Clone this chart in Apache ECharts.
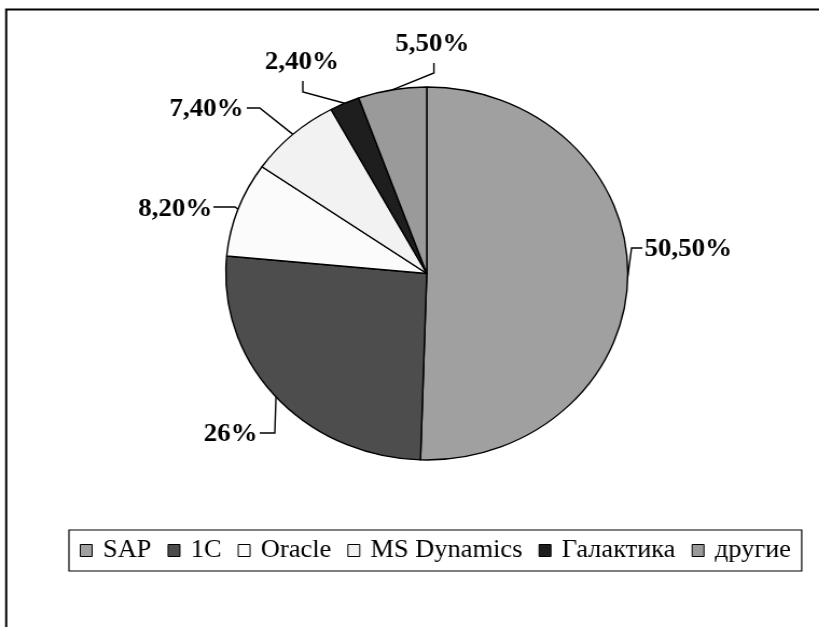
<!DOCTYPE html>
<html><head><meta charset="utf-8">
<script src="https://cdn.jsdelivr.net/npm/echarts@6/dist/echarts.min.js"></script>
<style>
html,body{margin:0;padding:0;background:#fff;overflow:hidden;width:819px;height:627px}
#c{width:760px;height:627px;transform:scaleX(1.0777);transform-origin:0 0}
</style></head><body><div id="c"></div>
<script>
const categories = ['SAP', '1C', 'Oracle', 'MS Dynamics', 'Галактика', 'другие'];
const shares = [50.5, 26, 8.2, 7.4, 2.4, 5.5];
const valueLabels = ['50,50%', '26%', '8,20%', '7,40%', '2,40%', '5,50%'];
const colors = ['#a0a0a0', '#4d4d4d', '#fbfbfb', '#f2f2f2', '#1e1e1e', '#9a9a9a'];

// label placement (layout only, unstretched coordinates)
const labelSpots = [
  { x: 598, y: 249.5, align: 'left',   bend: [[586, 248], [596, 248]] },
  { x: 239, y: 435,   align: 'right',  bend: [[255, 433], [241, 433]] },
  { x: 197, y: 210,   align: 'right',  bend: [[218, 207], [198, 207]] },
  { x: 226, y: 110,   align: 'right',  bend: [[241, 108], [229, 108]] },
  { x: 280, y: 63,    align: 'center', bend: [[281, 92], [281, 81]] },
  { x: 401, y: 45,    align: 'center', bend: [[402.6, 73], [402.6, 63]] }
];

const FONT = '"Liberation Serif", "Times New Roman", Times, serif';
const chart = echarts.init(document.getElementById('c'), null, { renderer: 'canvas' });
const data = categories.map((n, i) => ({ name: n, value: shares[i], itemStyle: { color: colors[i] } }));

chart.setOption({
  backgroundColor: '#fff',
  animation: false,
  graphic: [{
    type: 'polyline',
    shape: { points: [[5.75, 700], [5.75, 9.5], [800, 9.5]] },
    style: { stroke: '#000', lineWidth: 2, fill: null }
  }],
  legend: {
    left: 64, top: 530,
    padding: [8, 10, 8, 10],
    itemGap: 15,
    itemWidth: 11, itemHeight: 12,
    icon: 'rect',
    borderColor: '#000', borderWidth: 1.2,
    itemStyle: { borderColor: '#000', borderWidth: 1 },
    textStyle: { fontFamily: FONT, fontSize: 24.5, color: '#000', padding: [0, 0, 0, 5] },
    data: categories
  },
  series: [{
    type: 'pie',
    center: [396, 273.5],
    radius: 186.5,
    startAngle: 90,
    clockwise: true,
    avoidLabelOverlap: false,
    itemStyle: { borderColor: '#000', borderWidth: 1.4 },
    label: {
      show: true, position: 'outside',
      formatter: p => valueLabels[p.dataIndex],
      fontFamily: FONT, fontWeight: 'bold', fontSize: 25, color: '#000'
    },
    labelLine: { show: true, length: 10, length2: 10, lineStyle: { color: '#000', width: 1.4 } },
    labelLayout: function (params) {
      const s = labelSpots[params.dataIndex];
      const edge = params.labelLinePoints ? params.labelLinePoints[0] : s.bend[0];
      return {
        x: s.x, y: s.y, align: s.align, verticalAlign: 'middle',
        labelLinePoints: [edge, s.bend[0], s.bend[1]]
      };
    },
    emphasis: { disabled: true },
    data: data
  }]
});
</script></body></html>
